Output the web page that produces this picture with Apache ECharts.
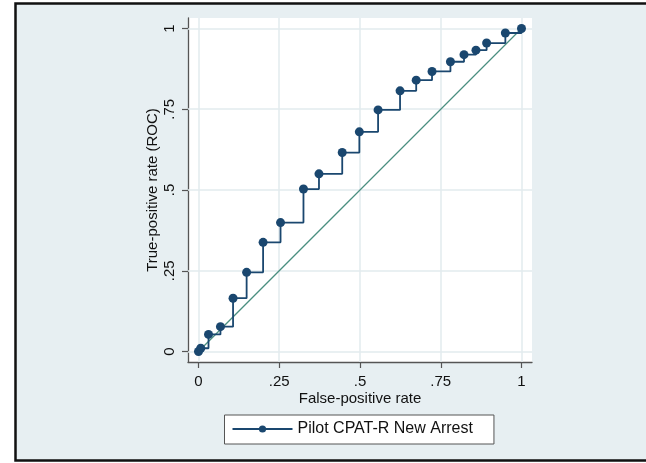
<!DOCTYPE html>
<html>
<head>
<meta charset="utf-8">
<script src="https://cdn.jsdelivr.net/npm/echarts@6/dist/echarts.min.js"></script>
<style>
html,body{margin:0;padding:0;background:#ffffff;overflow:hidden;}
#chart{width:646px;height:463px;}
</style>
</head>
<body>
<div id="chart"></div>
<script>
// ROC curve points (false-positive rate, true-positive rate)
const fpr = [0, 0.007, 0.031, 0.068, 0.107, 0.149, 0.200, 0.254, 0.325, 0.373, 0.445, 0.498, 0.556, 0.624, 0.674, 0.723, 0.780, 0.822, 0.859, 0.892, 0.950, 1.0];
const tpr = [0, 0.010, 0.053, 0.077, 0.165, 0.245, 0.338, 0.399, 0.503, 0.550, 0.616, 0.680, 0.748, 0.807, 0.840, 0.867, 0.897, 0.919, 0.933, 0.955, 0.986, 1.0];
// reference (chance) line
const refX = [0, 1];
const refY = [0, 1];
// ticks
const tickVals = [0, 0.25, 0.5, 0.75, 1];
const tickLabels = ['0', '.25', '.5', '.75', '1'];
const seriesName = 'Pilot CPAT-R New Arrest';
const xTitle = 'False-positive rate';
const yTitle = 'True-positive rate (ROC)';

const FONT = '"Liberation Sans", Arial, sans-serif';
const fmt = v => {
  for (let i = 0; i < tickVals.length; i++) if (Math.abs(tickVals[i] - v) < 1e-9) return tickLabels[i];
  return '';
};
const rocData = fpr.map((x, i) => [x, tpr[i]]);
const refData = refX.map((x, i) => [x, refY[i]]);
const gridLines = tickVals.map(v => ({xAxis: v})).concat(tickVals.map(v => ({yAxis: v})));

const axisCommon = {
  type: 'value',
  min: -0.0325,
  max: 1.0325,
  axisLine: {show: true, onZero: false, lineStyle: {color: '#555', width: 1.3}},
  axisTick: {show: true, customValues: tickVals, length: 6, lineStyle: {color: '#555', width: 1.2}},
  splitLine: {show: false},
  nameLocation: 'middle',
  nameMoveOverlap: false,
  nameTextStyle: {fontFamily: FONT, fontSize: 15, color: '#111'}
};

const chart = echarts.init(document.getElementById('chart'));
chart.setOption({
  animation: false,
  graphic: [{
    type: 'rect',
    z: -10,
    shape: {x: 15.5, y: 3.5, width: 660, height: 457},
    style: {fill: '#e7eff2', stroke: '#111', lineWidth: 2.5}
  }],
  grid: {
    left: 188, top: 18, width: 344, height: 344,
    show: true, backgroundColor: '#ffffff', borderWidth: 0
  },
  xAxis: Object.assign({}, axisCommon, {
    name: xTitle,
    nameGap: 29,
    axisLabel: {customValues: tickVals, formatter: fmt, fontFamily: FONT, fontSize: 15, color: '#111', margin: 12}
  }),
  yAxis: Object.assign({}, axisCommon, {
    name: yTitle,
    nameGap: 28,
    nameRotate: 90,
    axisLabel: {customValues: tickVals, formatter: fmt, fontFamily: FONT, fontSize: 15, color: '#111', margin: 11, rotate: 90}
  }),
  legend: {
    data: [seriesName],
    left: 224.5,
    top: 415,
    padding: [6, 21, 7, 7],
    itemWidth: 60,
    itemHeight: 9,
    itemGap: 10,
    backgroundColor: '#ffffff',
    borderColor: '#555',
    borderWidth: 1,
    textStyle: {fontFamily: FONT, fontSize: 16, color: '#111'}
  },
  series: [
    {
      name: 'grid',
      type: 'line',
      data: [],
      z: 1,
      silent: true,
      markLine: {
        z: 1,
        silent: true,
        symbol: ['none', 'none'],
        label: {show: false},
        lineStyle: {color: '#e2ebee', width: 1.5, type: 'solid'},
        data: gridLines
      }
    },
    {
      name: 'reference',
      type: 'line',
      data: refData,
      z: 2,
      symbol: 'none',
      lineStyle: {color: '#4a8f80', width: 1.3}
    },
    {
      name: seriesName,
      type: 'line',
      step: 'end',
      data: rocData,
      z: 3,
      symbol: 'circle',
      symbolSize: 9,
      itemStyle: {color: '#1a476f'},
      lineStyle: {color: '#1a476f', width: 1.8}
    }
  ]
});
</script>
</body>
</html>
